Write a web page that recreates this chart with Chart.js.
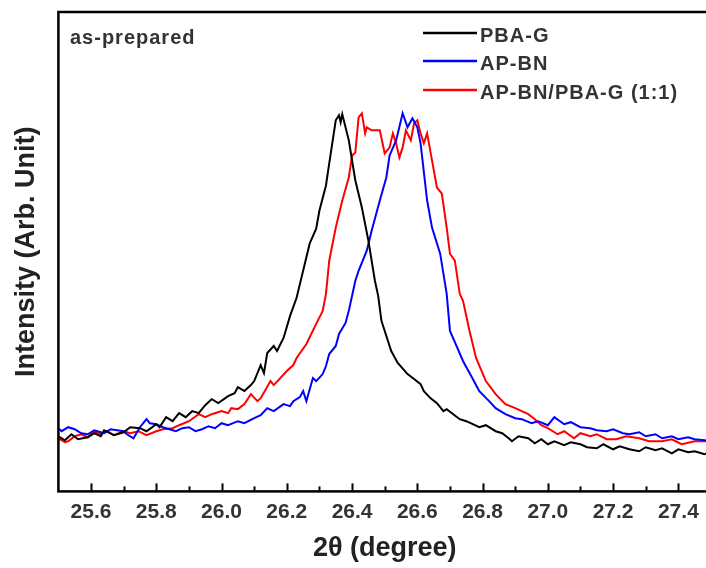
<!DOCTYPE html>
<html>
<head>
<meta charset="utf-8">
<script src="https://cdn.jsdelivr.net/npm/chart.js@4/dist/chart.umd.min.js"></script>
<style>
  html, body { margin: 0; padding: 0; background: #fff; overflow: hidden; }
  #wrap { width: 712px; height: 568px; }
</style>
</head>
<body>
<div id="wrap"><canvas id="xrd" width="712" height="568"></canvas></div>
<script>
// --- Data (2theta in degree, intensity in arbitrary units) ---
const pbaX = [25.50, 25.52, 25.54, 25.56, 25.59, 25.61, 25.63, 25.64, 25.67, 25.70, 25.72, 25.75, 25.77, 25.80, 25.81, 25.83, 25.85, 25.87, 25.89, 25.91, 25.93, 25.95, 25.97, 25.99, 26.02, 26.04, 26.05, 26.07, 26.09, 26.10, 26.12, 26.13, 26.14, 26.16, 26.17, 26.19, 26.21, 26.23, 26.25, 26.27, 26.29, 26.30, 26.32, 26.33, 26.35, 26.36, 26.365, 26.37, 26.39, 26.41, 26.43, 26.45, 26.47, 26.48, 26.49, 26.51, 26.52, 26.54, 26.57, 26.59, 26.61, 26.62, 26.64, 26.66, 26.68, 26.69, 26.71, 26.73, 26.75, 26.77, 26.79, 26.81, 26.84, 26.86, 26.88, 26.89, 26.91, 26.94, 26.96, 26.98, 27.00, 27.02, 27.05, 27.07, 27.10, 27.12, 27.15, 27.17, 27.20, 27.22, 27.25, 27.28, 27.30, 27.33, 27.35, 27.38, 27.40, 27.43, 27.45, 27.48, 27.50];
const pbaY = [55, 51, 57, 52, 54, 58, 55, 61, 56, 59, 64, 63, 60, 67, 64, 74, 70, 78, 74, 80, 78, 86, 92, 88, 95, 98, 104, 100, 106, 110, 126, 118, 138, 145, 140, 153, 175, 193, 220, 247, 262, 280, 305, 327, 370, 375, 368, 376, 350, 310, 283, 250, 210, 195, 170, 150, 140, 128, 117, 112, 107, 100, 93, 88, 80, 82, 77, 72, 70, 67, 64, 66, 60, 58, 53, 50, 55, 53, 48, 52, 47, 50, 46, 49, 47, 44, 43, 47, 42, 45, 42, 40, 44, 41, 43, 38, 42, 39, 40, 37, 40];

const bnX = [25.50, 25.51, 25.53, 25.55, 25.57, 25.59, 25.61, 25.64, 25.66, 25.70, 25.71, 25.73, 25.75, 25.77, 25.78, 25.80, 25.82, 25.83, 25.86, 25.88, 25.90, 25.92, 25.94, 25.96, 25.98, 26.00, 26.02, 26.05, 26.07, 26.10, 26.12, 26.14, 26.16, 26.19, 26.21, 26.22, 26.24, 26.25, 26.26, 26.28, 26.29, 26.31, 26.32, 26.33, 26.35, 26.36, 26.38, 26.39, 26.41, 26.42, 26.445, 26.46, 26.485, 26.505, 26.515, 26.535, 26.555, 26.57, 26.585, 26.60, 26.61, 26.63, 26.645, 26.67, 26.69, 26.70, 26.72, 26.74, 26.77, 26.79, 26.82, 26.84, 26.87, 26.90, 26.92, 26.95, 26.97, 27.00, 27.02, 27.05, 27.07, 27.10, 27.13, 27.15, 27.18, 27.20, 27.23, 27.25, 27.28, 27.30, 27.33, 27.35, 27.38, 27.40, 27.43, 27.45, 27.48, 27.50];
const bnY = [63, 60, 64, 62, 58, 57, 61, 58, 62, 60, 57, 53, 64, 72, 68, 67, 64, 63, 60, 63, 64, 60, 62, 65, 63, 68, 66, 70, 68, 73, 76, 83, 80, 87, 85, 90, 94, 100, 90, 113, 110, 117, 125, 137, 145, 157, 168, 180, 210, 220, 240, 260, 290, 313, 335, 350, 377, 363, 372, 363, 347, 290, 263, 237, 197, 160, 145, 130, 112, 100, 90, 83, 77, 73, 72, 68, 70, 66, 74, 67, 69, 64, 63, 61, 60, 62, 58, 57, 59, 55, 57, 53, 55, 52, 54, 52, 51, 50];

const mixX = [25.50, 25.52, 25.53, 25.55, 25.57, 25.59, 25.61, 25.63, 25.65, 25.67, 25.70, 25.72, 25.745, 25.77, 25.80, 25.82, 25.85, 25.87, 25.90, 25.93, 25.95, 25.97, 26.00, 26.02, 26.03, 26.05, 26.07, 26.09, 26.11, 26.12, 26.15, 26.16, 26.18, 26.20, 26.22, 26.23, 26.26, 26.29, 26.31, 26.32, 26.33, 26.35, 26.37, 26.39, 26.40, 26.41, 26.42, 26.43, 26.44, 26.445, 26.46, 26.485, 26.50, 26.515, 26.525, 26.535, 26.545, 26.555, 26.565, 26.58, 26.59, 26.60, 26.61, 26.62, 26.63, 26.645, 26.66, 26.675, 26.69, 26.70, 26.715, 26.73, 26.74, 26.76, 26.78, 26.81, 26.84, 26.87, 26.90, 26.92, 26.94, 26.96, 26.98, 27.00, 27.03, 27.05, 27.08, 27.10, 27.13, 27.15, 27.18, 27.21, 27.24, 27.28, 27.31, 27.35, 27.38, 27.41, 27.45, 27.50];
const mixY = [53, 49, 50, 55, 57, 54, 60, 57, 60, 56, 60, 58, 60, 56, 60, 62, 63, 66, 70, 77, 74, 77, 80, 78, 83, 82, 87, 97, 90, 93, 110, 106, 113, 120, 126, 133, 147, 167, 180, 197, 230, 263, 290, 313, 335, 338, 373, 377, 357, 363, 360, 360, 337, 343, 357, 347, 333, 343, 360, 350, 367, 370, 357, 347, 357, 330, 303, 297, 263, 237, 230, 197, 190, 160, 133, 110, 97, 87, 83, 80, 77, 72, 66, 63, 57, 60, 53, 58, 55, 57, 52, 52, 55, 53, 50, 50, 52, 47, 50, 50];

const seriesNames = ['PBA-G', 'AP-BN', 'AP-BN/PBA-G (1:1)'];
const seriesColors = ['#000000', '#0000ff', '#ff0000'];

const xTickLabels = [25.6, 25.8, 26.0, 26.2, 26.4, 26.6, 26.8, 27.0, 27.2, 27.4];
const xMinorTicks = [25.7, 25.9, 26.1, 26.3, 26.5, 26.7, 26.9, 27.1, 27.3];

const FONT = '"Liberation Sans", Arial, sans-serif';

// --- Helpers ---
function toPoints(xs, ys) {
  return xs.map((x, i) => ({ x: x, y: ys[i] }));
}

function strokeLine(ctx, x1, y1, x2, y2) {
  ctx.beginPath();
  ctx.moveTo(x1, y1);
  ctx.lineTo(x2, y2);
  ctx.stroke();
}

// --- Frame, inner ticks, legend and label ---
const framePlugin = {
  id: 'frame',
  afterDraw(chart) {
    const { ctx, chartArea: a, scales: { x } } = chart;
    ctx.save();

    // box round the plot
    ctx.strokeStyle = '#000';
    ctx.lineWidth = 2.5;
    ctx.strokeRect(a.left, a.top, a.right - a.left, a.bottom - a.top);

    // ticks pointing inwards
    ctx.lineWidth = 2;
    xTickLabels.forEach(v => {
      const px = Math.round(x.getPixelForValue(v)) + 0.5;
      strokeLine(ctx, px, a.bottom, px, a.bottom - 8);
    });
    xMinorTicks.forEach(v => {
      const px = Math.round(x.getPixelForValue(v)) + 0.5;
      strokeLine(ctx, px, a.bottom, px, a.bottom - 5);
    });

    // legend
    ctx.font = 'bold 20px ' + FONT;
    ctx.letterSpacing = '1px';
    ctx.textBaseline = 'alphabetic';
    ctx.fillStyle = '#333';
    const rows = [42, 70, 99];
    chart.data.datasets.forEach((ds, i) => {
      ctx.strokeStyle = ds.borderColor;
      ctx.lineWidth = 2.5;
      strokeLine(ctx, 423, rows[i] - 9, 477, rows[i] - 9);
      ctx.fillText(ds.label, 480, rows[i]);
    });

    // sample state
    ctx.fillText('as-prepared', 70, 44);
    ctx.restore();
  }
};

// --- Chart ---
function initChart() {
  const ctx = document.getElementById('xrd').getContext('2d');
  const datasets = [
    toPoints(pbaX, pbaY),
    toPoints(bnX, bnY),
    toPoints(mixX, mixY)
  ].map((pts, i) => ({
    label: seriesNames[i],
    data: pts,
    borderColor: seriesColors[i],
    borderWidth: 2,
    pointRadius: 0,
    tension: 0,
    fill: false
  }));

  new Chart(ctx, {
    type: 'line',
    data: { datasets: datasets },
    plugins: [framePlugin],
    options: {
      responsive: false,
      animation: false,
      layout: { padding: { top: 12, right: 1, left: 0, bottom: 0 } },
      plugins: {
        legend: { display: false },
        tooltip: { enabled: false }
      },
      scales: {
        x: {
          type: 'linear',
          min: 25.5,
          max: 27.5,
          grid: { display: false },
          border: { display: false },
          afterBuildTicks: scale => {
            scale.ticks = xTickLabels.map(v => ({ value: v }));
          },
          ticks: {
            padding: 0,
            color: '#333',
            font: { family: FONT, size: 21, weight: 'bold' },
            callback: v => v.toFixed(1)
          },
          title: {
            display: true,
            text: '2θ (degree)',
            color: '#222',
            font: { family: FONT, size: 27, weight: 'bold', lineHeight: 1.2 },
            padding: { top: 8, bottom: 3 }
          }
        },
        y: {
          min: 0,
          max: 478,
          grid: { display: false },
          border: { display: false },
          ticks: { display: false },
          title: {
            display: true,
            text: 'Intensity (Arb. Unit)',
            color: '#222',
            font: { family: FONT, size: 27, weight: 'bold', lineHeight: 1.2 },
            padding: { top: 10, bottom: 8 }
          }
        }
      }
    }
  });
}

initChart();
</script>
</body>
</html>
